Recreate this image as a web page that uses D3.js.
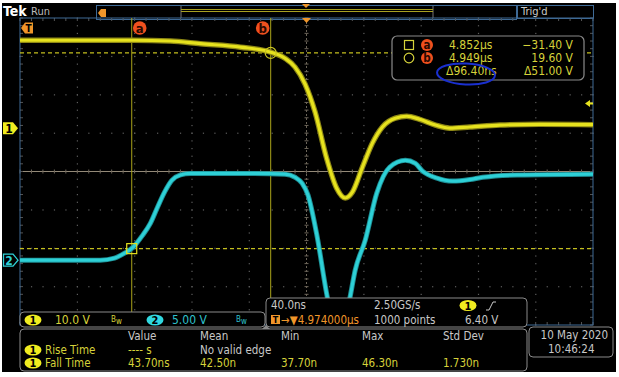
<!DOCTYPE html>
<html><head><meta charset="utf-8">
<script src="https://cdn.jsdelivr.net/npm/d3@7"></script>
<style>
html,body{margin:0;padding:0;background:#fff;}
svg{display:block;}
text{font-family:"Liberation Sans Narrow","DejaVu Sans Condensed","Arial Narrow","Roboto Condensed","Liberation Sans",sans-serif;}
</style></head>
<body>
<svg id="c" width="619" height="377"></svg>
<script>
// ---- data (time in ns relative to screen centre = 4.974000 µs) ----
const ch1Times = [-200,-121,-95,-74,-46,-25,-15,-8,-1,6,14,21,27,32,39,46,53,62,70,79,90,100,114,135,163,200];
const ch1Volts = [22.9,22.9,22.7,22.0,21.1,19.8,18.2,15.9,11.5,4.2,-7.8,-15.6,-18.2,-16.7,-10.2,-3.9,0.3,2.6,3.1,2.3,0.8,0.0,0.3,0.8,1.0,0.9];
const ch2Times = [-200,-144,-134,-127,-121,-115,-109,-104,-99,-94,-88,-81,-39,-15,-8,-3,1,7,14,18.5,23,30,34,41,49,58,69,76,81,91,102,114,123,147,200];
const ch2Volts = [0,0,0.26,0.9,1.7,3.1,4.8,6.9,8.9,10.4,11.1,11.3,11.3,11.2,10.8,10.0,8.5,3.5,-4.3,-8.5,-10.5,-5.2,-1.3,2.6,8.7,12.1,13.0,12.6,11.6,10.7,10.3,10.5,10.8,11.1,11.2];
const cursorTimesNs = [-122,-25];          // a, b
const cursorVolts = [-31.40, 19.60];       // a, b (CH1 units)
const cursorLabels = ["a","b"];
const readoutTimes = ["4.852µs","4.949µs","Δ96.40ns"];
const readoutVolts = ["−31.40 V","19.60 V","Δ51.00 V"];
const chScales = ["10.0 V","5.00 V"];
const horizInfo = ["40.0ns","2.50GS/s","4.974000µs","1000 points","6.40 V"];
const measHeaders = ["Value","Mean","Min","Max","Std Dev"];
const measNames = ["Rise Time","Fall Time"];
const riseRow = ["---- s","No valid edge"];
const fallRow = ["43.70ns","42.50n","37.70n","46.30n","1.730n"];
const dateText = ["10 May 2020","10:46:24"];

const ch1Pos = 1.13, ch2Pos = -2.31; // divisions
const ch1 = ch1Times.map((t,i)=>({t, v:ch1Volts[i]}));
const ch2 = ch2Times.map((t,i)=>({t, v:ch2Volts[i]}));

const svg = d3.select("#c");
const L=20,R=593,T=18,B=325;
const x = d3.scaleLinear().domain([-200,200]).range([L,R]);
const yDiv = d3.scaleLinear().domain([-4,4]).range([B,T]);
const y1 = d3.scaleLinear().domain([(-4-ch1Pos)*10,(4-ch1Pos)*10]).range([B,T]);
const y2 = d3.scaleLinear().domain([(-4-ch2Pos)*5,(4-ch2Pos)*5]).range([B,T]);

const YEL="#e6e21e", CYN="#2ed0d6", OLV="#aaa41a", TXY="#d6d23a", TXC="#2fc0cc", ORG="#f0962a", RED="#f0501e", GRY="#c8c8c8", BRD="#8a8a8a";

// screen
svg.append("rect").attr("x",2).attr("y",3).attr("width",614).attr("height",369).attr("fill","#000");

// ---- top bar ----
svg.append("text").attr("x",3).attr("y",16).attr("fill","#fff").attr("font-size",14).attr("font-weight","bold").text("Tek");
svg.append("text").attr("x",31).attr("y",15).attr("fill","#bbb").attr("font-size",11).text("Run");
svg.append("rect").attr("x",96.5).attr("y",5.5).attr("width",420).attr("height",14).attr("fill","#000").attr("stroke","#3e6a96");
svg.append("line").attr("x1",181).attr("x2",181).attr("y1",6).attr("y2",18).attr("stroke","#777");
svg.append("line").attr("x1",433).attr("x2",433).attr("y1",6).attr("y2",18).attr("stroke","#777");
[9.5,11.5].forEach(yy=>svg.append("line").attr("x1",181).attr("x2",433).attr("y1",yy).attr("y2",yy).attr("stroke","#a8a020").attr("stroke-width",1));
svg.append("path").attr("d","M98,13 L101,9 L106,9 L106,17 L101,17 Z").attr("fill",ORG);
svg.append("path").attr("d","M302,4 L310,4 L306,8 Z").attr("fill",ORG);
svg.append("rect").attr("x",517.5).attr("y",5.5).attr("width",76).attr("height",13).attr("fill","#000").attr("stroke","#3e6a96");
svg.append("text").attr("x",521).attr("y",15).attr("fill","#ccc").attr("font-size",11).text("Trig'd");

// ---- graticule ----
const g = svg.append("g");
const xDivs = d3.range(-200,201,40), yDivs = d3.range(-4,5,1);
const DOT="#5e5e5e";
xDivs.slice(1,-1).forEach(t=>{
  if(t===0) return;
  d3.range(T, B+0.1, (B-T)/40).forEach(yy=>g.append("rect").attr("x",x(t)-0.5).attr("y",yy-0.5).attr("width",1.2).attr("height",1.2).attr("fill",DOT));
});
yDivs.slice(1,-1).forEach(d=>{
  if(d===0) return;
  d3.range(L, R+0.1, (R-L)/50).forEach(xx=>g.append("rect").attr("x",xx-0.5).attr("y",yDiv(d)-0.5).attr("width",1.2).attr("height",1.2).attr("fill",DOT));
});
// centre lines
g.append("line").attr("x1",L).attr("x2",R).attr("y1",yDiv(0)).attr("y2",yDiv(0)).attr("stroke","#948a78").attr("stroke-width",1);
d3.range(L,R+0.1,(R-L)/50).forEach(xx=>g.append("line").attr("x1",xx).attr("x2",xx).attr("y1",yDiv(0)-2).attr("y2",yDiv(0)+2).attr("stroke","#6e665a"));
g.append("line").attr("x1",x(0)).attr("x2",x(0)).attr("y1",T).attr("y2",B).attr("stroke","#6a6458").attr("stroke-dasharray","2,2");
d3.range(T,B+0.1,(B-T)/40).forEach(yy=>g.append("line").attr("x1",x(0)-2).attr("x2",x(0)+2).attr("y1",yy).attr("y2",yy).attr("stroke","#6e665a"));
// border ticks
d3.range(L,R+0.1,(R-L)/50).forEach(xx=>{
  g.append("line").attr("x1",xx).attr("x2",xx).attr("y1",T).attr("y2",T+3).attr("stroke","#555");
  g.append("line").attr("x1",xx).attr("x2",xx).attr("y1",B).attr("y2",B-3).attr("stroke","#555");
});
d3.range(T,B+0.1,(B-T)/40).forEach(yy=>{
  g.append("line").attr("x1",L).attr("x2",L+3).attr("y1",yy).attr("y2",yy).attr("stroke","#555");
  g.append("line").attr("x1",R).attr("x2",R-3).attr("y1",yy).attr("y2",yy).attr("stroke","#555");
});
g.append("rect").attr("x",L).attr("y",T).attr("width",R-L).attr("height",B-T).attr("fill","none").attr("stroke","#3e6a96");

// ---- cursors ----
cursorTimesNs.forEach(t=>svg.append("line").attr("x1",x(t)).attr("x2",x(t)).attr("y1",T).attr("y2",B).attr("stroke",OLV).attr("stroke-width",1));
cursorVolts.forEach(v=>svg.append("line").attr("x1",L).attr("x2",R).attr("y1",y1(v)).attr("y2",y1(v)).attr("stroke","#c4be1e").attr("stroke-width",1.2).attr("stroke-dasharray","4,3"));

// ---- traces ----
svg.append("clipPath").attr("id","gc").append("rect").attr("x",L).attr("y",T).attr("width",R-L).attr("height",B-T);
const tr = svg.append("g").attr("clip-path","url(#gc)");
const l1 = d3.line().x(d=>x(d.t)).y(d=>y1(d.v)).curve(d3.curveMonotoneX);
const l2 = d3.line().x(d=>x(d.t)).y(d=>y2(d.v)).curve(d3.curveMonotoneX);
tr.append("path").attr("d",l2(ch2)).attr("fill","none").attr("stroke","#1e8e94").attr("stroke-width",5).attr("stroke-linejoin","round");
tr.append("path").attr("d",l2(ch2)).attr("fill","none").attr("stroke",CYN).attr("stroke-width",3.2).attr("stroke-linejoin","round");
tr.append("path").attr("d",l1(ch1)).attr("fill","none").attr("stroke","#8e8814").attr("stroke-width",5.5).attr("stroke-linejoin","round");
tr.append("path").attr("d",l1(ch1)).attr("fill","none").attr("stroke",YEL).attr("stroke-width",3.2).attr("stroke-linejoin","round");

// cursor markers
svg.append("rect").attr("x",x(cursorTimesNs[0])-5).attr("y",y1(cursorVolts[0])-5).attr("width",10).attr("height",10).attr("fill","none").attr("stroke",YEL).attr("stroke-width",1.2);
svg.append("circle").attr("cx",x(cursorTimesNs[1])).attr("cy",y1(cursorVolts[1])).attr("r",5.5).attr("fill","none").attr("stroke","#c8c420").attr("stroke-width",1.2);
cursorTimesNs.forEach((t,i)=>{
  const cx = i===0 ? x(t)+8 : x(t)-8;
  svg.append("circle").attr("cx",cx).attr("cy",28).attr("r",6.8).attr("fill",RED);
  svg.append("text").attr("x",cx).attr("y",32.5).attr("text-anchor","middle").attr("font-size",13).attr("font-weight","bold").attr("fill","#2a0800").text(cursorLabels[i]);
});

// trigger T marker on graticule
svg.append("path").attr("d","M21,28 L25,22.5 L33,22.5 L33,33.5 L25,33.5 Z").attr("fill",ORG);
svg.append("text").attr("x",28.5).attr("y",32).attr("text-anchor","middle").attr("font-size",10).attr("font-weight","bold").attr("fill","#000").text("T");
svg.append("path").attr("d","M302,18 L311,18 L306.5,23 Z").attr("fill",ORG);
// trigger level arrow right
svg.append("path").attr("d","M585,103.5 L590,100 L590,102.5 L593,102.5 L593,104.5 L590,104.5 L590,107 Z").attr("fill",YEL);

// channel markers
svg.append("path").attr("d",`M3,${y1(0)-6} L13,${y1(0)-6} L18,${y1(0)} L13,${y1(0)+6} L3,${y1(0)+6} Z`).attr("fill","#f0ec20");
svg.append("text").attr("x",9).attr("y",y1(0)+4.5).attr("text-anchor","middle").attr("font-size",12).attr("font-weight","bold").attr("fill","#000").text("1");
svg.append("path").attr("d",`M3.5,${y2(0)-6} L13,${y2(0)-6} L18,${y2(0)} L13,${y2(0)+6} L3.5,${y2(0)+6} Z`).attr("fill","#000").attr("stroke",CYN).attr("stroke-width",1.3);
svg.append("text").attr("x",9).attr("y",y2(0)+4.5).attr("text-anchor","middle").attr("font-size",12).attr("font-weight","bold").attr("fill",CYN).text("2");

// ---- cursor readout box ----
const rb = svg.append("g");
rb.append("rect").attr("x",392).attr("y",36).attr("width",192).attr("height",44).attr("rx",5).attr("fill","#000").attr("stroke",BRD).attr("stroke-width",1.2);
rb.append("rect").attr("x",404.5).attr("y",40.5).attr("width",9).attr("height",9).attr("fill","none").attr("stroke",TXY).attr("stroke-width",1.2);
rb.append("circle").attr("cx",409).attr("cy",58).attr("r",4.8).attr("fill","none").attr("stroke",TXY).attr("stroke-width",1.2);
[45,58].forEach((cy,i)=>{
  rb.append("circle").attr("cx",427).attr("cy",cy).attr("r",6).attr("fill",RED);
  rb.append("text").attr("x",427).attr("y",cy+4).attr("text-anchor","middle").attr("font-size",11.5).attr("font-weight","bold").attr("fill","#2a0800").text(cursorLabels[i]);
});
readoutTimes.forEach((s,i)=>rb.append("text").attr("x",i<2?449:446).attr("y",49+i*13).attr("font-size",12).attr("fill",TXY).text(s));
readoutVolts.forEach((s,i)=>rb.append("text").attr("x",573).attr("y",49+i*13).attr("text-anchor","end").attr("font-size",12).attr("fill",TXY).text(s));
rb.append("ellipse").attr("cx",466).attr("cy",74).attr("rx",29).attr("ry",10.5).attr("fill","none").attr("stroke","#1a30d0").attr("stroke-width",2).attr("transform","rotate(3,466,74)");

// ---- channel scale box ----
const cb = svg.append("g");
cb.append("rect").attr("x",20).attr("y",312).attr("width",245).attr("height",15).attr("rx",4).attr("fill","#000").attr("stroke",BRD);
function chBadge(parent,cx,cy,num,fill,col){
  parent.append("ellipse").attr("cx",cx).attr("cy",cy).attr("rx",8.5).attr("ry",5.5).attr("fill",fill);
  parent.append("text").attr("x",cx).attr("y",cy+4).attr("text-anchor","middle").attr("font-size",11).attr("font-weight","bold").attr("fill",col).text(num);
}
chBadge(cb,33,320,"1","#f0ec20","#000");
cb.append("text").attr("x",55).attr("y",324).attr("font-size",12).attr("fill",TXY).text(chScales[0]);
cb.append("text").attr("x",111).attr("y",322).attr("font-size",8).attr("fill",TXY).text("B").append("tspan").attr("dy",2).text("w");
chBadge(cb,155,320,"2","#30d8e0","#000");
cb.append("text").attr("x",172).attr("y",324).attr("font-size",12).attr("fill",TXC).text(chScales[1]);
cb.append("text").attr("x",236).attr("y",322).attr("font-size",8).attr("fill",TXC).text("B").append("tspan").attr("dy",2).text("w");

// ---- horizontal info box ----
const hb = svg.append("g");
hb.append("rect").attr("x",266).attr("y",298).attr("width",261).attr("height",29).attr("rx",4).attr("fill","#000").attr("stroke",BRD);
hb.append("text").attr("x",271).attr("y",309).attr("font-size",11.5).attr("fill",GRY).text(horizInfo[0]);
hb.append("text").attr("x",374).attr("y",309).attr("font-size",11.5).attr("fill",GRY).text(horizInfo[1]);
chBadge(hb,468,305.5,"1","#f0ec20","#000");
hb.append("path").attr("d","M486,310 L489,310 L493,302 L496,302").attr("fill","none").attr("stroke",GRY).attr("stroke-width",1);
hb.append("rect").attr("x",271).attr("y",315).attr("width",9).attr("height",9).attr("fill",ORG);
hb.append("text").attr("x",275.5).attr("y",323).attr("text-anchor","middle").attr("font-size",9).attr("font-weight","bold").attr("fill","#000").text("T");
hb.append("text").attr("x",281).attr("y",324).attr("font-size",11.5).attr("fill",ORG).text("→▼"+horizInfo[2]);
hb.append("text").attr("x",374).attr("y",324).attr("font-size",11.5).attr("fill",GRY).text(horizInfo[3]);
hb.append("text").attr("x",465).attr("y",324).attr("font-size",11.5).attr("fill",GRY).text(horizInfo[4]);
svg.append("path").attr("d","M262,329 L266,325 L270,329 Z").attr("fill","#888");

// ---- measurement panel ----
const mp = svg.append("g");
mp.append("rect").attr("x",20).attr("y",329).attr("width",507).attr("height",42).attr("rx",4).attr("fill","#000").attr("stroke",BRD);
const colX = [128,200,281,362,443];
measHeaders.forEach((h,i)=>mp.append("text").attr("x",colX[i]).attr("y",340).attr("font-size",11.5).attr("fill",GRY).text(h));
measNames.forEach((n,i)=>{
  const yy = 354+i*13;
  chBadge(mp,33,yy-4,"1","#f0ec20","#000");
  mp.append("text").attr("x",45).attr("y",yy).attr("font-size",11.5).attr("fill",TXY).text(n);
});
mp.append("text").attr("x",colX[0]).attr("y",354).attr("font-size",11.5).attr("fill",TXY).text(riseRow[0]);
mp.append("text").attr("x",colX[1]).attr("y",354).attr("font-size",11.5).attr("fill",GRY).text(riseRow[1]);
fallRow.forEach((s,i)=>mp.append("text").attr("x",colX[i]).attr("y",367).attr("font-size",11.5).attr("fill",TXY).text(s));

// ---- date box ----
const db = svg.append("g");
db.append("rect").attr("x",529).attr("y",327).attr("width",84).attr("height",30).attr("rx",4).attr("fill","#000").attr("stroke",BRD);
db.append("text").attr("x",608).attr("y",339).attr("text-anchor","end").attr("font-size",11.5).attr("fill",GRY).text(dateText[0]);
db.append("text").attr("x",548).attr("y",353).attr("font-size",11.5).attr("fill",GRY).text(dateText[1]);
</script>
</body></html>
